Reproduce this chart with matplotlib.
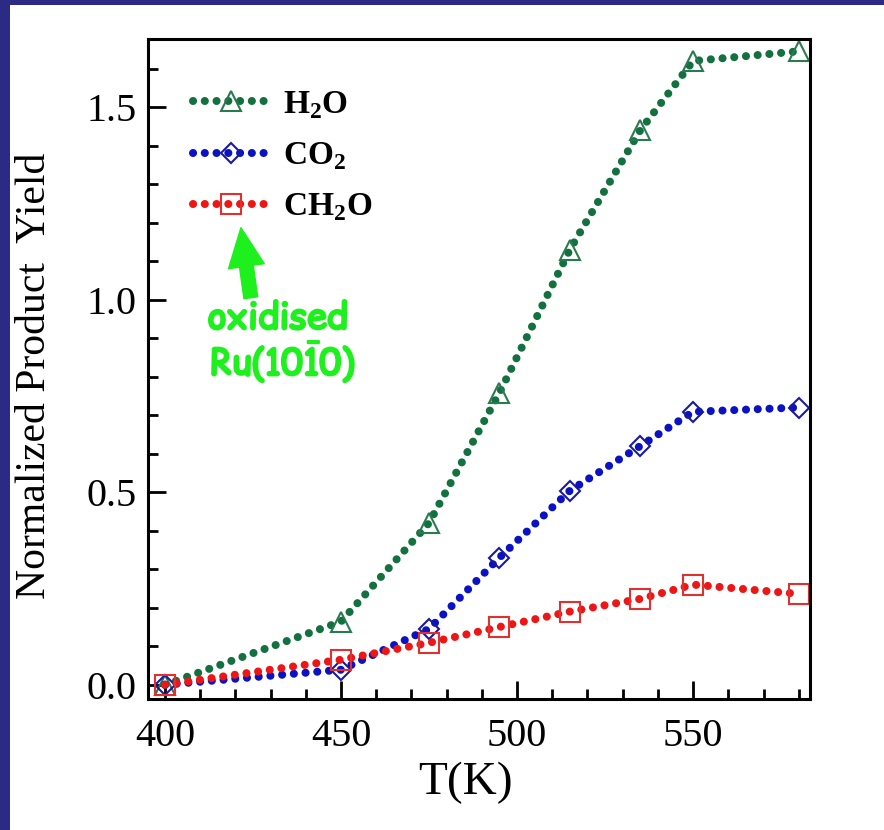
import matplotlib
matplotlib.use("Agg")
import matplotlib.pyplot as plt
import matplotlib.patheffects as pe
from matplotlib.patches import Rectangle
from matplotlib.ticker import MultipleLocator

temps = [400, 450, 475, 495, 515, 535, 550, 580]
h2o = [0.0, 0.164, 0.42, 0.758, 1.13, 1.44, 1.62, 1.645]
co2 = [0.0, 0.039, 0.145, 0.33, 0.504, 0.62, 0.709, 0.72]
ch2o = [0.0, 0.065, 0.109, 0.15, 0.19, 0.223, 0.26, 0.236]

series_labels = [r"H$_\mathbf{2}$O", r"CO$_\mathbf{2}$", r"CH$_\mathbf{2}$O"]
line_colors = ["#13703f", "#0a12c4", "#ee1515"]
edge_colors = ["#2a7a50", "#1a1a9c", "#e03030"]
markers = ["^", "D", "s"]
marker_sizes = [15, 10.5, 14]

plt.rcParams["font.family"] = ["Liberation Serif", "DejaVu Serif"]
plt.rcParams["mathtext.fontset"] = "custom"
plt.rcParams["mathtext.rm"] = "Liberation Serif"
plt.rcParams["mathtext.bf"] = "Liberation Serif:bold"
plt.rcParams["mathtext.sf"] = "Comic Relief"

fig = plt.figure(figsize=(8.84, 8.30), dpi=100)
fig.patch.set_facecolor("#2b2b85")
# weisse Fläche, dunkelblauer Rand oben und links
fig.patches.append(Rectangle((10 / 884, 0), 1, (830 - 5) / 830,
                             transform=fig.transFigure, facecolor="white",
                             edgecolor="none", zorder=-10))

ax = fig.add_axes([148 / 884, 131 / 830, 662 / 884, 660 / 830])

for y, lab, lc, ec, m, ms in zip([h2o, co2, ch2o], series_labels, line_colors,
                                 edge_colors, markers, marker_sizes):
    ax.plot(temps, y, color=lc, lw=5.8, linestyle=(0, (0.01, 1.45)),
            dash_capstyle="round", marker=m, markersize=ms,
            markerfacecolor="none", markeredgecolor=ec, markeredgewidth=1.5,
            label=lab)

ax.set_xlim(395.2, 583.2)
ax.set_ylim(-0.037, 1.677)

ax.xaxis.set_major_locator(MultipleLocator(50))
ax.xaxis.set_minor_locator(MultipleLocator(10))
ax.yaxis.set_major_locator(MultipleLocator(0.5))
ax.yaxis.set_minor_locator(MultipleLocator(0.1))

ax.tick_params(which="both", direction="in", top=False, right=False,
               width=2.0, labelsize=29)
ax.tick_params(which="major", length=13)
ax.tick_params(which="minor", length=7)
ax.tick_params(axis="x", pad=14)
ax.tick_params(axis="y", pad=8)
for sp in ax.spines.values():
    sp.set_linewidth(2.2)

ax.set_xlabel("T(K)", fontsize=34)
ax.set_ylabel("Normalized Product  Yield", fontsize=30)
ax.xaxis.set_label_coords(0.48, -0.095)
ax.yaxis.set_label_coords(-0.142, 0.49)

leg = ax.legend(loc="upper left", bbox_to_anchor=(0.068, 0.924), frameon=False,
                prop={"weight": "bold", "size": 24}, handlelength=2.25,
                handletextpad=0.45, labelspacing=0.58, borderpad=0,
                borderaxespad=0)

# Annotation
green = "#1ef01e"
thick = [pe.withStroke(linewidth=1.6, foreground=green)]
ax.annotate("", xy=(421.6, 1.187), xytext=(424.4, 1.005),
            arrowprops=dict(color=green, width=10, headwidth=26,
                            headlength=28, shrink=0))
ax.text(432.1, 0.948, "oxidised", color=green, fontsize=26,
        family="Comic Relief", ha="center", va="center", path_effects=thick)
ax.text(433.5, 0.836, r"Ru(10$\bar{\mathsf{1}}$0)", color=green, fontsize=26,
        family="Comic Relief", ha="center", va="center", path_effects=thick)

fig.savefig("out.png", dpi=100, facecolor=fig.get_facecolor())
